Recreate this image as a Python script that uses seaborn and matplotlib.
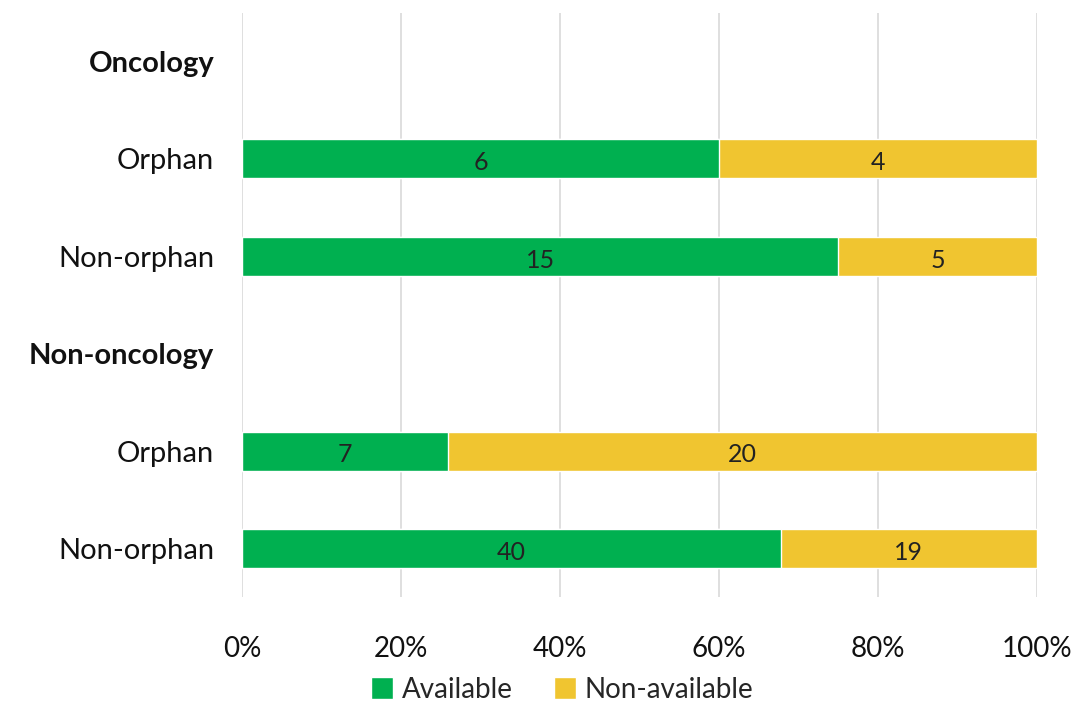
import matplotlib
matplotlib.use("Agg")
import matplotlib.pyplot as plt
import seaborn as sns
import pandas as pd
from matplotlib.patches import Patch

row_labels = ["Oncology", "Orphan", "Non-orphan", "Non-oncology", "Orphan", "Non-orphan"]
row_keys = ["h1", "o1", "n1", "h2", "o2", "n2"]
header_keys = ["h1", "h2"]
bar_keys = ["o1", "n1", "o2", "n2"]
available = [6, 15, 7, 40]
non_available = [4, 5, 20, 19]
tick_labels = ["0%", "20%", "40%", "60%", "80%", "100%"]

GREEN = "#00B050"
YELLOW = "#F0C530"

sns.set_theme(style="white")
plt.rcParams["font.family"] = ["Lato", "DejaVu Sans"]

totals = [a + n for a, n in zip(available, non_available)]
df = pd.DataFrame({
    "key": bar_keys,
    "avail_pct": [a / t * 100 for a, t in zip(available, totals)],
    "total_pct": [100.0 for _ in totals],
    "avail": available,
    "nonavail": non_available,
})

fig = plt.figure(figsize=(10.77, 7.10), dpi=100)
ax = fig.add_axes([0.2247, 0.159, 0.738, 0.823])

sns.barplot(data=df, y="key", x="total_pct", order=row_keys, color=YELLOW,
            orient="h", width=0.4, ax=ax, saturation=1, errorbar=None)
sns.barplot(data=df, y="key", x="avail_pct", order=row_keys, color=GREEN,
            orient="h", width=0.4, ax=ax, saturation=1, errorbar=None)

for i, row in df.iterrows():
    y = row_keys.index(row["key"])
    ax.text(row["avail_pct"] / 2, y + 0.04, str(row["avail"]), ha="center", va="center",
            fontsize=18, color="#222222")
    ax.text((row["avail_pct"] + 100) / 2, y + 0.04, str(row["nonavail"]), ha="center",
            va="center", fontsize=18, color="#222222")

ax.set_xlim(0, 100)
ax.set_ylim(5.5, -0.5)
ax.set_xticks([0, 20, 40, 60, 80, 100])
ax.set_xticklabels(tick_labels)
ax.set_yticks(range(len(row_keys)))
ax.set_yticklabels(row_labels)
for lbl, key in zip(ax.get_yticklabels(), row_keys):
    if key in header_keys:
        lbl.set_fontweight("bold")
ax.tick_params(axis="y", labelsize=21, length=0, pad=20, colors="#111111")
ax.tick_params(axis="x", labelsize=20, length=0, pad=28, colors="#111111")
ax.xaxis.grid(True, color="#D9D9D9", linewidth=1.2)
ax.set_axisbelow(True)
for s in ax.spines.values():
    s.set_visible(False)
ax.set_xlabel("")
ax.set_ylabel("")

handles = [Patch(facecolor=GREEN, label="Available"), Patch(facecolor=YELLOW, label="Non-available")]
fig.legend(handles=handles, loc="lower center", bbox_to_anchor=(0.522, -0.025), ncol=2,
           frameon=False, fontsize=20, handlelength=0.8, handleheight=0.8,
           handletextpad=0.3, columnspacing=1.5)

fig.savefig("out.png", dpi=100)
